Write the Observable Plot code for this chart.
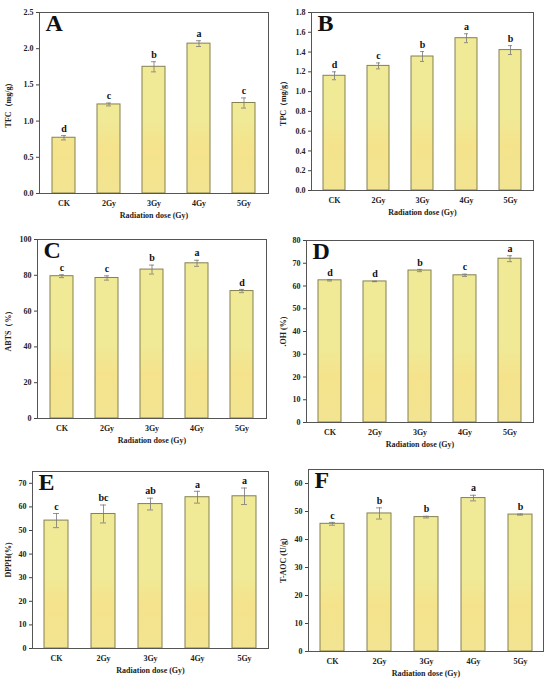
<!DOCTYPE html>
<html>
<head>
<meta charset="utf-8">
<script src="https://cdn.jsdelivr.net/npm/d3@7"></script>
<script src="https://cdn.jsdelivr.net/npm/@observablehq/plot@0.6"></script>
<style>
  html, body { margin: 0; padding: 0; background: #fff; }
  #wrap { position: relative; width: 550px; height: 679px; background: #fff; overflow: hidden; }
  .panel { position: absolute; }
</style>
</head>
<body>
<div id="wrap"></div>
<script>
const categories = ["CK", "2Gy", "3Gy", "4Gy", "5Gy"];

const tfcValues = [0.77, 1.23, 1.75, 2.07, 1.25];
const tfcErrors = [0.03, 0.02, 0.07, 0.04, 0.07];
const tfcLetters = ["d", "c", "b", "a", "c"];
const tfcTicks = [0, 0.5, 1.0, 1.5, 2.0, 2.5];

const tpcValues = [1.16, 1.26, 1.355, 1.54, 1.42];
const tpcErrors = [0.04, 0.03, 0.05, 0.045, 0.045];
const tpcLetters = ["d", "c", "b", "a", "b"];
const tpcTicks = [0, 0.2, 0.4, 0.6, 0.8, 1.0, 1.2, 1.4, 1.6, 1.8];

const abtsValues = [79.5, 78.5, 83.2, 86.7, 71.2];
const abtsErrors = [0.8, 1.2, 2.5, 1.7, 0.9];
const abtsLetters = ["c", "c", "b", "a", "d"];
const abtsTicks = [0, 20, 40, 60, 80, 100];

const ohValues = [62.5, 62.0, 66.8, 64.7, 72.0];
const ohErrors = [0.3, 0.1, 0.5, 0.5, 1.3];
const ohLetters = ["d", "d", "b", "c", "a"];
const ohTicks = [0, 10, 20, 30, 40, 50, 60, 70, 80];

const dpphValues = [54.2, 57.0, 61.2, 64.1, 64.5];
const dpphErrors = [3.0, 3.8, 2.5, 2.5, 3.5];
const dpphLetters = ["c", "bc", "ab", "a", "a"];
const dpphTicks = [0, 10, 20, 30, 40, 50, 60, 70];

const taocValues = [45.6, 49.3, 48.0, 54.8, 48.9];
const taocErrors = [0.5, 2.0, 0.3, 1.0, 0.2];
const taocLetters = ["c", "b", "b", "a", "b"];
const taocTicks = [0, 10, 20, 30, 40, 50, 60];

const panels = [
  {id: "A", values: tfcValues, errors: tfcErrors, letters: tfcLetters, ticks: tfcTicks, max: 2.5, fmt: ".1f", label: "TFC（mg/g）",
   left: 0, top: 0, w: 275, h: 225, ml: 39, mr: 7, mt: 12, mb: 32},
  {id: "B", values: tpcValues, errors: tpcErrors, letters: tpcLetters, ticks: tpcTicks, max: 1.8, fmt: ".1f", label: "TPC（mg/g）",
   left: 275, top: 0, w: 275, h: 225, ml: 36, mr: 17, mt: 12, mb: 35},
  {id: "C", values: abtsValues, errors: abtsErrors, letters: abtsLetters, ticks: abtsTicks, max: 100, fmt: "d", label: "ABTS（%）",
   left: 0, top: 225, w: 275, h: 225, ml: 37, mr: 9, mt: 14, mb: 32},
  {id: "D", values: ohValues, errors: ohErrors, letters: ohLetters, ticks: ohTicks, max: 80, fmt: "d", label: ".OH (%)",
   left: 275, top: 225, w: 275, h: 225, ml: 31, mr: 17, mt: 15, mb: 28},
  {id: "E", values: dpphValues, errors: dpphErrors, letters: dpphLetters, ticks: dpphTicks, max: 75, fmt: "d", label: "DPPH(%)",
   left: 0, top: 450, w: 275, h: 229, ml: 32, mr: 7, mt: 21, mb: 31},
  {id: "F", values: taocValues, errors: taocErrors, letters: taocLetters, ticks: taocTicks, max: 65, fmt: "d", label: "T-AOC (U/g)",
   left: 275, top: 450, w: 275, h: 229, ml: 33, mr: 7, mt: 19, mb: 28}
];

const wrap = document.getElementById("wrap");

panels.forEach(p => {
  const data = categories.map((c, i) => ({cat: c, v: p.values[i], e: p.errors[i], l: p.letters[i]}));
  const gradId = "grad" + p.id;
  const gradient = (index, scales, values, dims) => {
    const ns = "http://www.w3.org/2000/svg";
    const defs = document.createElementNS(ns, "defs");
    const lg = document.createElementNS(ns, "linearGradient");
    lg.setAttribute("id", gradId);
    lg.setAttribute("gradientUnits", "userSpaceOnUse");
    lg.setAttribute("x1", 0); lg.setAttribute("x2", 0);
    lg.setAttribute("y1", dims.marginTop);
    lg.setAttribute("y2", dims.height - dims.marginBottom);
    [[0, "#f0e996"], [0.6, "#f0e996"], [0.75, "#f5e38c"], [1, "#f2e491"]].forEach(([o, c]) => {
      const s = document.createElementNS(ns, "stop");
      s.setAttribute("offset", o); s.setAttribute("stop-color", c);
      lg.appendChild(s);
    });
    defs.appendChild(lg);
    return defs;
  };
  const chart = Plot.plot({
    width: p.w, height: p.h,
    marginLeft: p.ml, marginRight: p.mr, marginTop: p.mt, marginBottom: p.mb,
    style: {fontFamily: "'Liberation Serif', 'DejaVu Serif', serif", fontWeight: "bold", fontSize: "8px", background: "white", color: "#222"},
    x: {domain: categories, paddingInner: 0.5, paddingOuter: 0.25, label: null},
    y: {domain: [0, p.max], label: null},
    marks: [
      gradient,
      Plot.barY(data, {x: "cat", y: "v", fill: `url(#${gradId})`, stroke: "#858050", strokeWidth: 1}),
      Plot.ruleX(data, {x: "cat", y1: d => d.v - d.e, y2: d => d.v + d.e, stroke: "#777", strokeWidth: 0.8}),
      Plot.tickY(data, {x: "cat", y: d => d.v + d.e, insetLeft: 9, insetRight: 9, stroke: "#777", strokeWidth: 0.8}),
      Plot.tickY(data, {x: "cat", y: d => d.v - d.e, insetLeft: 9, insetRight: 9, stroke: "#777", strokeWidth: 0.8}),
      Plot.text(data, {x: "cat", y: d => d.v + d.e, text: "l", dy: -7, fontSize: 10, fontWeight: "bold", fill: "#111"}),
      Plot.text([p.id], {frameAnchor: "top-left", dx: 6, dy: 1, textAnchor: "start", lineAnchor: "top", fontSize: 24, fontWeight: "bold", fill: "#111"}),
      Plot.frame({stroke: "#555", strokeWidth: 1}),
      Plot.axisY({ticks: p.ticks, tickFormat: d3.format(p.fmt), tickSize: 3, tickPadding: 3, stroke: "#444",
        label: p.label, labelAnchor: "center", labelArrow: "none", labelOffset: p.ml - 5, fontSize: 8}),
      Plot.axisX({tickSize: 0, tickPadding: 7, label: "Radiation dose (Gy)", labelAnchor: "center", labelArrow: "none", labelOffset: 24, fontSize: 8})
    ]
  });
  const div = document.createElement("div");
  div.className = "panel";
  div.style.left = p.left + "px";
  div.style.top = p.top + "px";
  div.appendChild(chart);
  wrap.appendChild(div);
});
</script>
</body>
</html>
